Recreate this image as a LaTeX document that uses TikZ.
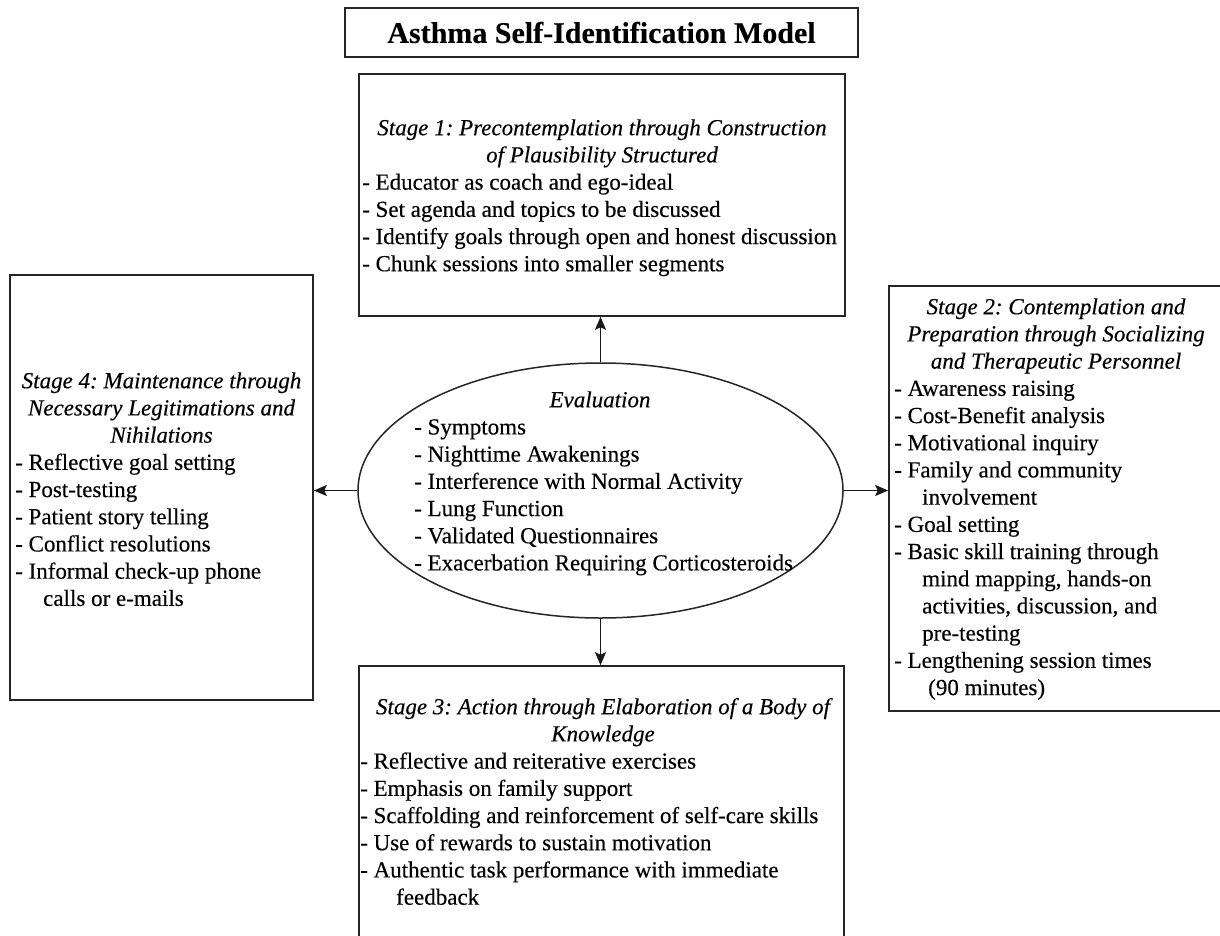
\documentclass[tikz,border=0pt]{standalone}
\usepackage{fontspec}
\setmainfont{Liberation Serif}[FakeBold=0.3]
\usetikzlibrary{shapes.geometric,arrows.meta}
\begin{document}
\frenchspacing
\begin{tikzpicture}[x=1pt,y=-1pt,
  frame/.style={draw=black!85,line width=1.6pt,inner sep=0pt},
  body/.style={font=\fontsize{23}{27.2}\selectfont,inner sep=0pt,align=left,anchor=north west},
  head/.style={font=\fontsize{23}{27.2}\selectfont\itshape,inner sep=0pt,align=center,anchor=north},
  conn/.style={draw=black!90,line width=1.5pt,-{Stealth[length=13pt,width=11pt,inset=2.5pt]}}]
\clip (0,0) rectangle (1220,936);
\fill[white] (0,0) rectangle (1220,936);

% title
\node[frame,minimum width=513pt,minimum height=49pt,font=\fontsize{30}{36}\selectfont\bfseries] (title) at (601.5,32.5) {Asthma Self-Identification Model};

% stage 1
\node[frame,minimum width=486pt,minimum height=242pt] (s1) at (602,195) {};
\node[head] (s1h) at (602,116) {\strut Stage 1: Precontemplation through Construction\\of Plausibility Structured};
\node[body] (s1b) at (362,170.4) {\strut- Educator as coach and ego-ideal\\- Set agenda and topics to be discussed\\- Identify goals through open and honest discussion\\- Chunk sessions into smaller segments};

% stage 4
\node[frame,minimum width=303pt,minimum height=425pt] (s4) at (161.5,487.5) {};
\node[head] (s4h) at (161.5,369) {\strut Stage 4: Maintenance through\\Necessary Legitimations and\\Nihilations};
\node[body] (s4b) at (15,450.6) {\strut- Reflective goal setting\\- Post-testing\\- Patient story telling\\- Conflict resolutions\\- Informal check-up phone\\\hspace*{28pt}calls or e-mails};

% stage 2
\node[frame,minimum width=333pt,minimum height=425pt] (s2) at (1055.5,498.5) {};
\node[head] (s2h) at (1056,295) {\strut Stage 2: Contemplation and\\Preparation through Socializing\\and Therapeutic Personnel};
\node[body] (s2b) at (894,376.6) {\strut- Awareness raising\\- Cost-Benefit analysis\\- Motivational inquiry\\- Family and community\\\hspace*{28pt}involvement\\- Goal setting\\- Basic skill training through\\\hspace*{28pt}mind mapping, hands-on\\\hspace*{28pt}activities, discussion, and\\\hspace*{28pt}pre-testing\\- Lengthening session times\\\hspace*{34pt}(90 minutes)};

% stage 3
\node[frame,minimum width=485pt,minimum height=284pt] (s3) at (601.5,808) {};
\node[head] (s3h) at (603,695) {\strut Stage 3: Action through Elaboration of a Body of\\Knowledge};
\node[body] (s3b) at (360,749.4) {\strut- Reflective and reiterative exercises\\- Emphasis on family support\\- Scaffolding and reinforcement of self-care skills\\- Use of rewards to sustain motivation\\- Authentic task performance with immediate\\\hspace*{36pt}feedback};

% evaluation
\node[draw=black!85,line width=1.5pt,ellipse,inner sep=0pt,minimum width=485pt,minimum height=255pt] (ev) at (600.5,490.5) {};
\node[head] (evh) at (600,388) {\strut Evaluation};
\node[body] (evb) at (414,415.2) {\strut- Symptoms\\- Nighttime Awakenings\\- Interference with Normal Activity\\- Lung Function\\- Validated Questionnaires\\- Exacerbation Requiring Corticosteroids};

% connectors
\draw[conn] (ev.north) -- (ev.north |- s1.south);
\draw[conn] (ev.south) -- (ev.south |- s3.north);
\draw[conn] (ev.west) -- (ev.west -| s4.east);
\draw[conn] (ev.east) -- (ev.east -| s2.west);
\end{tikzpicture}
\end{document}
